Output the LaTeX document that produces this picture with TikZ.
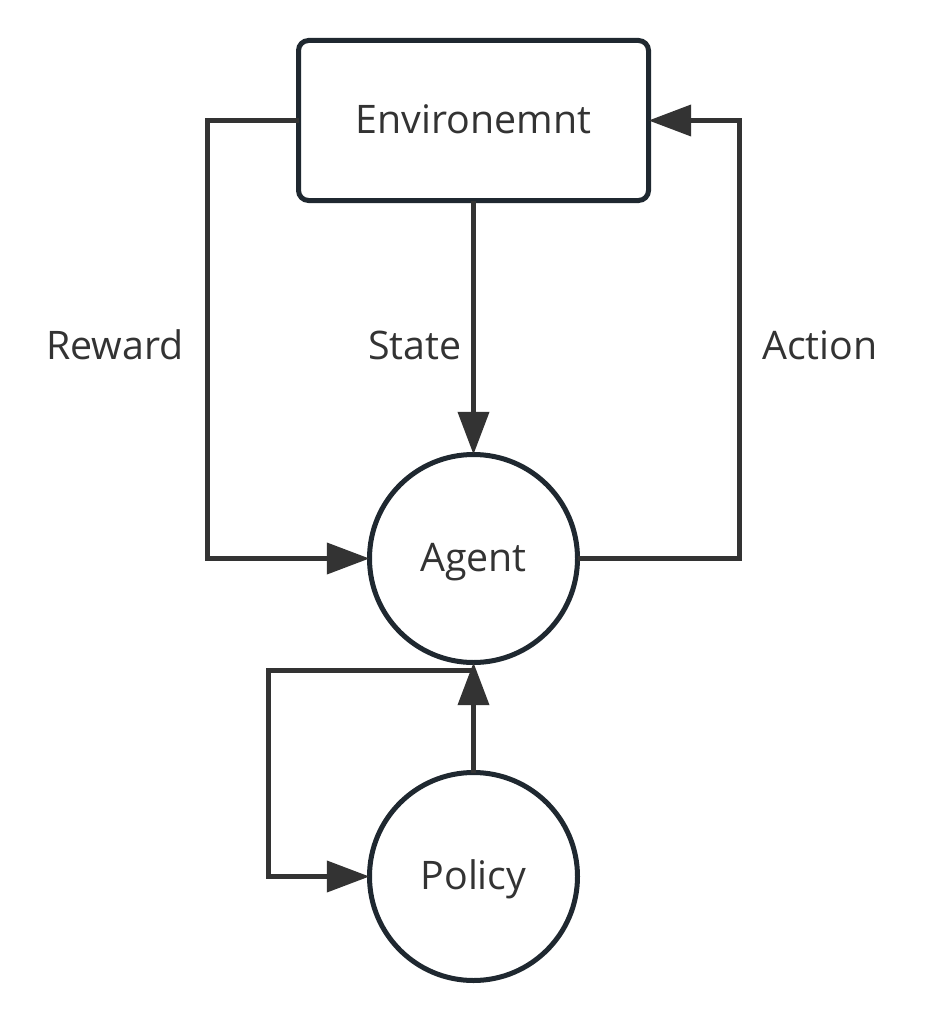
\documentclass[tikz,border=0pt]{standalone}
\usepackage{fontspec}
\setmainfont{Open Sans}
\usetikzlibrary{arrows.meta,calc}
\definecolor{ln}{HTML}{333333}
\definecolor{shp}{HTML}{1F2830}
\definecolor{tx}{HTML}{333333}
\begin{document}
\begin{tikzpicture}[x=0.75pt,y=-0.75pt,
  every node/.style={text=tx,font=\fontsize{29.5}{34}\selectfont},
  shape line/.style={draw=shp,line width=3.75pt,fill=white,inner sep=0pt,outer sep=0pt,text height=20pt,text depth=0pt},
  envbox/.style={shape line,rectangle,rounded corners=7.5pt,minimum width=262.5pt,minimum height=120pt},
  roundnode/.style={shape line,circle,minimum size=156pt},
  conn/.style={draw=ln,line width=3.75pt},
  arr/.style={conn,-{Triangle[length=32pt,width=23pt]}},
  lbl/.style={inner sep=0pt}]
\useasboundingbox (0,0) rectangle (936,1013);
\node[envbox] (env) at (473.5,120.5) {Environemnt};
\node[roundnode] (agent) at (473.5,558.5) {Agent};
\node[roundnode] (policy) at (473.5,876.5) {Policy};
\coordinate (rl) at (207.5,0);
\coordinate (ar) at (739.5,0);
\coordinate (lx) at (268.5,0);
\coordinate (ls) at (473.5,670.5);
\draw[arr] (env.west) -- (env.west -| rl) -- (agent.west -| rl) -- (agent.west);
\draw[arr] (agent.east) -- (agent.east -| ar) -- (env.east -| ar) -- (env.east);
\draw[arr] (env.south) -- (agent.north);
\draw[arr] (policy.north) -- (agent.south);
\draw[arr] (ls) -- (ls -| lx) -- (policy.west -| lx) -- (policy.west);
\node[lbl] (reward) at (115,345) {Reward};
\node[lbl] (state) at (415,345) {State};
\node[lbl] (action) at (820,345) {Action};
\end{tikzpicture}
\end{document}
